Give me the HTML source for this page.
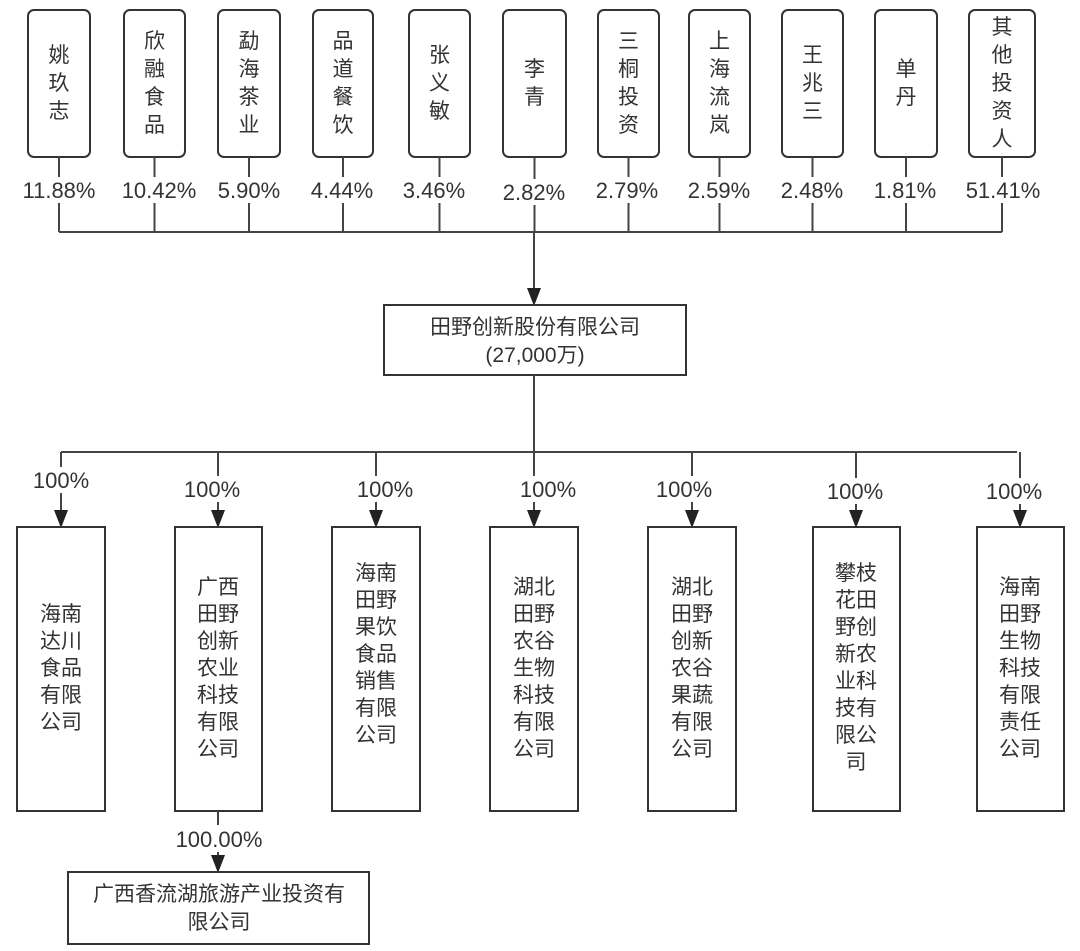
<!DOCTYPE html>
<html><head><meta charset="utf-8"><style>
body{margin:0;background:#fff}
svg{display:block}
text{font-family:"Liberation Sans","Noto Sans CJK SC",sans-serif;fill:#333;font-size:21px;text-anchor:middle}
text.p{font-size:22px}
.b{fill:#fff;stroke:#333;stroke-width:2}
.l{stroke:#444;stroke-width:2;fill:none}
.a{fill:#222}
</style></head><body>
<svg width="1080" height="951" viewBox="0 0 1080 951">
<rect class="b" x="28" y="10" width="62" height="147" rx="6"/>
<text x="59" y="62">姚<tspan x="59" dy="28">玖</tspan><tspan x="59" dy="28">志</tspan></text>
<rect class="b" x="124" y="10" width="61" height="147" rx="6"/>
<text x="154.5" y="48">欣<tspan x="154.5" dy="28">融</tspan><tspan x="154.5" dy="28">食</tspan><tspan x="154.5" dy="28">品</tspan></text>
<rect class="b" x="218" y="10" width="62" height="147" rx="6"/>
<text x="249" y="48">勐<tspan x="249" dy="28">海</tspan><tspan x="249" dy="28">茶</tspan><tspan x="249" dy="28">业</tspan></text>
<rect class="b" x="313" y="10" width="60" height="147" rx="6"/>
<text x="343" y="48">品<tspan x="343" dy="28">道</tspan><tspan x="343" dy="28">餐</tspan><tspan x="343" dy="28">饮</tspan></text>
<rect class="b" x="409" y="10" width="61" height="147" rx="6"/>
<text x="439.5" y="62">张<tspan x="439.5" dy="28">义</tspan><tspan x="439.5" dy="28">敏</tspan></text>
<rect class="b" x="503" y="10" width="63" height="147" rx="6"/>
<text x="534.5" y="76">李<tspan x="534.5" dy="28">青</tspan></text>
<rect class="b" x="598" y="10" width="61" height="147" rx="6"/>
<text x="628.5" y="48">三<tspan x="628.5" dy="28">桐</tspan><tspan x="628.5" dy="28">投</tspan><tspan x="628.5" dy="28">资</tspan></text>
<rect class="b" x="689" y="10" width="61" height="147" rx="6"/>
<text x="719.5" y="48">上<tspan x="719.5" dy="28">海</tspan><tspan x="719.5" dy="28">流</tspan><tspan x="719.5" dy="28">岚</tspan></text>
<rect class="b" x="782" y="10" width="61" height="147" rx="6"/>
<text x="812.5" y="62">王<tspan x="812.5" dy="28">兆</tspan><tspan x="812.5" dy="28">三</tspan></text>
<rect class="b" x="875" y="10" width="62" height="147" rx="6"/>
<text x="906" y="76">单<tspan x="906" dy="28">丹</tspan></text>
<rect class="b" x="969" y="10" width="66" height="147" rx="6"/>
<text x="1002" y="34">其<tspan x="1002" dy="28">他</tspan><tspan x="1002" dy="28">投</tspan><tspan x="1002" dy="28">资</tspan><tspan x="1002" dy="28">人</tspan></text>

<path class="l" d="M59,157V177M59,203V232 M154.5,157V177M154.5,203V232 M249,157V177M249,203V232 M343,157V177M343,203V232 M439.5,157V177M439.5,203V232 M534.5,157V179M534.5,205V232 M628.5,157V177M628.5,203V232 M719.5,157V177M719.5,203V232 M812.5,157V177M812.5,203V232 M906,157V177M906,203V232 M1002,157V177M1002,203V232 M59,232H1002"/>
<text class="p" x="59" y="198">11.88%</text>
<text class="p" x="159" y="198">10.42%</text>
<text class="p" x="249" y="198">5.90%</text>
<text class="p" x="342" y="198">4.44%</text>
<text class="p" x="434" y="198">3.46%</text>
<text class="p" x="534" y="200">2.82%</text>
<text class="p" x="627" y="198">2.79%</text>
<text class="p" x="719" y="198">2.59%</text>
<text class="p" x="812" y="198">2.48%</text>
<text class="p" x="905" y="198">1.81%</text>
<text class="p" x="1003" y="198">51.41%</text>

<path class="l" d="M534,232V290"/>
<polygon class="a" points="527,288 541,288 534,306"/>
<rect class="b" x="384" y="305" width="302" height="70"/>
<text x="535" y="334">田野创新股份有限公司</text>
<text x="535" y="362">(27,000万)</text>
<path class="l" d="M534,375V452 M61,452H1017"/>

<path class="l" d="M61,452V467M61,493V512 M218,452V476M218,502V512 M376,452V476M376,502V512 M534,452V476M534,502V512 M692,452V476M692,502V512 M856,452V478M856,504V512 M1020,452V478M1020,504V512"/>
<text class="p" x="61" y="488">100%</text>
<text class="p" x="212" y="497">100%</text>
<text class="p" x="385" y="497">100%</text>
<text class="p" x="548" y="497">100%</text>
<text class="p" x="684" y="497">100%</text>
<text class="p" x="855" y="499">100%</text>
<text class="p" x="1014" y="499">100%</text>
<polygon class="a" points="54,510 68,510 61,528"/>
<polygon class="a" points="211,510 225,510 218,528"/>
<polygon class="a" points="369,510 383,510 376,528"/>
<polygon class="a" points="527,510 541,510 534,528"/>
<polygon class="a" points="685,510 699,510 692,528"/>
<polygon class="a" points="849,510 863,510 856,528"/>
<polygon class="a" points="1013,510 1027,510 1020,528"/>

<rect class="b" x="17" y="527" width="88" height="284"/>
<text x="61" y="621">海南<tspan x="61" dy="27">达川</tspan><tspan x="61" dy="27">食品</tspan><tspan x="61" dy="27">有限</tspan><tspan x="61" dy="27">公司</tspan></text>
<rect class="b" x="175" y="527" width="87" height="284"/>
<text x="218" y="594">广西<tspan x="218" dy="27">田野</tspan><tspan x="218" dy="27">创新</tspan><tspan x="218" dy="27">农业</tspan><tspan x="218" dy="27">科技</tspan><tspan x="218" dy="27">有限</tspan><tspan x="218" dy="27">公司</tspan></text>
<rect class="b" x="332" y="527" width="88" height="284"/>
<text x="376" y="580">海南<tspan x="376" dy="27">田野</tspan><tspan x="376" dy="27">果饮</tspan><tspan x="376" dy="27">食品</tspan><tspan x="376" dy="27">销售</tspan><tspan x="376" dy="27">有限</tspan><tspan x="376" dy="27">公司</tspan></text>
<rect class="b" x="490" y="527" width="88" height="284"/>
<text x="534" y="594">湖北<tspan x="534" dy="27">田野</tspan><tspan x="534" dy="27">农谷</tspan><tspan x="534" dy="27">生物</tspan><tspan x="534" dy="27">科技</tspan><tspan x="534" dy="27">有限</tspan><tspan x="534" dy="27">公司</tspan></text>
<rect class="b" x="648" y="527" width="88" height="284"/>
<text x="692" y="594">湖北<tspan x="692" dy="27">田野</tspan><tspan x="692" dy="27">创新</tspan><tspan x="692" dy="27">农谷</tspan><tspan x="692" dy="27">果蔬</tspan><tspan x="692" dy="27">有限</tspan><tspan x="692" dy="27">公司</tspan></text>
<rect class="b" x="813" y="527" width="87" height="284"/>
<text x="856" y="580">攀枝<tspan x="856" dy="27">花田</tspan><tspan x="856" dy="27">野创</tspan><tspan x="856" dy="27">新农</tspan><tspan x="856" dy="27">业科</tspan><tspan x="856" dy="27">技有</tspan><tspan x="856" dy="27">限公</tspan><tspan x="856" dy="27">司</tspan></text>
<rect class="b" x="977" y="527" width="87" height="284"/>
<text x="1020" y="594">海南<tspan x="1020" dy="27">田野</tspan><tspan x="1020" dy="27">生物</tspan><tspan x="1020" dy="27">科技</tspan><tspan x="1020" dy="27">有限</tspan><tspan x="1020" dy="27">责任</tspan><tspan x="1020" dy="27">公司</tspan></text>

<path class="l" d="M218,811V825M218,852V858"/>
<text class="p" x="219" y="847">100.00%</text>
<polygon class="a" points="211,855 225,855 218,873"/>
<rect class="b" x="68" y="872" width="301" height="72"/>
<text x="219" y="901">广西香流湖旅游产业投资有</text>
<text x="219" y="929">限公司</text>
</svg>
</body></html>
